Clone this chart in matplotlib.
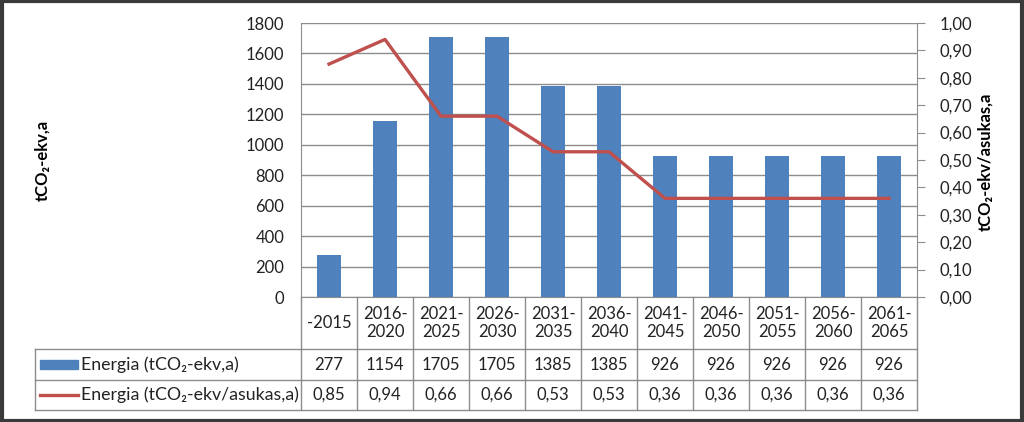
import matplotlib
matplotlib.use("Agg")
import matplotlib.pyplot as plt
import matplotlib.transforms as mtransforms
from matplotlib.patches import Rectangle
from matplotlib.lines import Line2D
import numpy as np

plt.rcParams['font.family'] = ['Lato', 'DejaVu Sans']

# data
categories = ['-2015', '2016-\n2020', '2021-\n2025', '2026-\n2030', '2031-\n2035', '2036-\n2040',
              '2041-\n2045', '2046-\n2050', '2051-\n2055', '2056-\n2060', '2061-\n2065']
energia_total = [277, 1154, 1705, 1705, 1385, 1385, 926, 926, 926, 926, 926]
energia_per_capita = [0.85, 0.94, 0.66, 0.66, 0.53, 0.53, 0.36, 0.36, 0.36, 0.36, 0.36]
series_names = ['Energia (tCO\u2082-ekv,a)', 'Energia (tCO\u2082-ekv/asukas,a)']

blue = '#4F81BD'
red = '#C0504D'
grid_c = '#8C8C8C'
txt_c = '#222222'
fs = 12

W, H = 1024, 422
fig = plt.figure(figsize=(W / 100, H / 100), dpi=100)

# pixel helpers
def fx(px):
    return px / W

def fy(py):
    return 1 - py / H

left_px, right_px, top_px, bot_px = 301, 917, 23, 297
ax = fig.add_axes([fx(left_px), fy(bot_px), fx(right_px) - fx(left_px), fy(top_px) - fy(bot_px)])
ax2 = ax.twinx()

n = len(categories)
x = np.arange(n)
ax.bar(x, energia_total, width=0.43, color=blue, zorder=2)
ax.set_xlim(-0.5, n - 0.5)
ax.set_ylim(0, 1800)
ax.set_yticks(np.arange(0, 1801, 200))
ax.yaxis.grid(True, color=grid_c, lw=1)
ax.set_axisbelow(True)
ax.tick_params(axis='y', length=0, pad=12, labelsize=fs, colors=txt_c)
ax.set_xticks([])
for s in ['top', 'right']:
    ax.spines[s].set_visible(False)
ax.spines['left'].set_color(grid_c)
ax.spines['bottom'].set_color(grid_c)

ax2.plot(x, energia_per_capita, color=red, lw=2.4, zorder=3)
ax2.set_ylim(0, 1.0)
ax2.set_yticks(np.arange(0, 1.01, 0.1))
ax2.set_yticklabels([f'{v:.2f}'.replace('.', ',') for v in np.arange(0, 1.01, 0.1)])
ax2.tick_params(axis='y', length=6, pad=10, labelsize=fs, colors=txt_c)
ax2.tick_params(axis='y', color=grid_c)
for s in ['top', 'left', 'bottom']:
    ax2.spines[s].set_visible(False)
ax2.spines['right'].set_color(grid_c)

# axis titles
fig.text(fx(42), fy(160), 'tCO\u2082-ekv,a', rotation=90, ha='center', va='center',
         fontsize=fs, fontweight='bold')
fig.text(fx(985), fy(162), 'tCO\u2082-ekv/asukas,a', rotation=90, ha='center', va='center',
         fontsize=fs, fontweight='bold')

# data table under the axis
trans = mtransforms.blended_transform_factory(ax.transData, fig.transFigure)
row_lines = [349, 380, 410]
table_left = 35
col_edges = np.arange(n + 1) - 0.5

def hline(y_px, x0_px, x1_px):
    fig.add_artist(Line2D([fx(x0_px), fx(x1_px)], [fy(y_px), fy(y_px)], color=grid_c, lw=1))

def vline(x_px, y0_px, y1_px):
    fig.add_artist(Line2D([fx(x_px), fx(x_px)], [fy(y0_px), fy(y1_px)], color=grid_c, lw=1))

for e in col_edges:
    xp = left_px + (e + 0.5) / n * (right_px - left_px)
    vline(xp, bot_px, row_lines[-1])
for r in row_lines:
    hline(r, table_left, right_px)
vline(table_left, row_lines[0], row_lines[2])

for i, c in enumerate(categories):
    ax.text(i, fy((bot_px + row_lines[0]) / 2), c, transform=trans, ha='center', va='center',
            fontsize=fs, linespacing=1.15, color=txt_c)
    ax.text(i, fy((row_lines[0] + row_lines[1]) / 2), str(energia_total[i]), transform=trans,
            ha='center', va='center', fontsize=fs, color=txt_c)
    ax.text(i, fy((row_lines[1] + row_lines[2]) / 2),
            f'{energia_per_capita[i]:.2f}'.replace('.', ','), transform=trans,
            ha='center', va='center', fontsize=fs, color=txt_c)

# legend keys inside the table
yc1 = (row_lines[0] + row_lines[1]) / 2
yc2 = (row_lines[1] + row_lines[2]) / 2
fig.add_artist(Rectangle((fx(40), fy(yc1 + 4)), fx(78) - fx(40), fy(yc1 - 4) - fy(yc1 + 4),
                         transform=fig.transFigure, color=blue))
fig.add_artist(Line2D([fx(40), fx(78)], [fy(yc2), fy(yc2)], color=red, lw=2.4))
fig.text(fx(81), fy(yc1), series_names[0], ha='left', va='center', fontsize=12.8, color=txt_c)
fig.text(fx(81), fy(yc2), series_names[1], ha='left', va='center', fontsize=12.8, color=txt_c)

# outer frame
fig.add_artist(Rectangle((0.0015, 0.003), 0.997, 0.994, transform=fig.transFigure,
                         fill=False, edgecolor='#3A3A3A', lw=3))

fig.savefig('out.png', dpi=100)
